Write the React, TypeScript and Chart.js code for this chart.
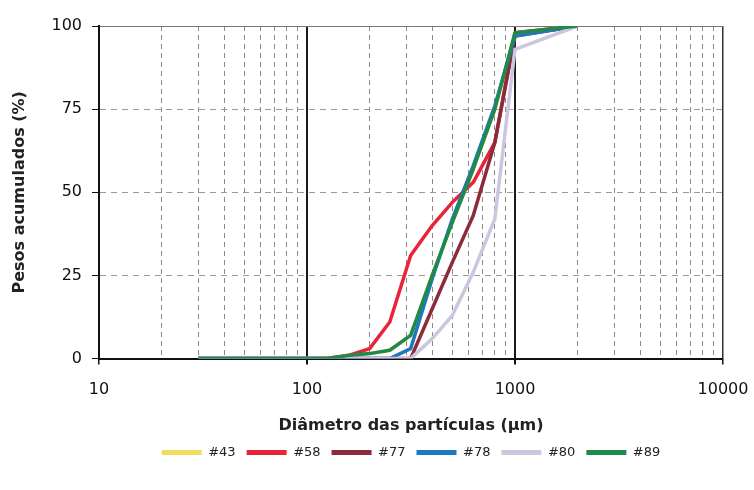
import React, { useEffect, useRef } from "react";
import { Chart, registerables } from "chart.js";

Chart.register(...registerables);

// Particle diameters (µm) of the sieve points
const diameters = [30, 63, 125, 160, 200, 250, 315, 400, 500, 630, 800, 1000, 2000];

// Cumulative weights (%) per sample
const s43 = [0, 0, 0, 1, 1.5, 2.5, 7, 25, 41, 57, 75, 98, 100];
const s58 = [0, 0, 0, 1, 3, 11, 31, 40, 47, 53, 65, 98, 100];
const s77 = [0, 0, 0, 0, 0, 0, 0, 15, 29, 43, 65, 97, 100];
const s78 = [0, 0, 0, 0, 0, 0, 3, 24, 42, 58, 76, 97, 100];
const s80 = [0, 0, 0, 0, 0, 0, 0, 6, 13, 26, 42, 93, 100];
const s89 = [0, 0, 0, 1, 1.5, 2.5, 7, 25, 41, 57, 75, 98, 100];

const seriesLabels = ["#43", "#58", "#77", "#78", "#80", "#89"];
const seriesValues = [s43, s58, s77, s78, s80, s89];
const seriesColors = ["#f2dc5d", "#e8233a", "#8c2b3a", "#1f78c1", "#cdc6e0", "#1f8a4c"];

const xMajorTicks = [10, 100, 1000, 10000];
const xMinorFactors = [1, 2, 3, 4, 5, 6, 7, 8, 9];
const yTickStep = 25;

const FONT = "'DejaVu Sans', 'Liberation Sans', Arial, sans-serif";

export default function App() {
  const canvasRef = useRef<HTMLCanvasElement | null>(null);

  useEffect(() => {
    if (!canvasRef.current) return;
    const xTickValues: number[] = [];
    for (let i = 0; i < xMajorTicks.length - 1; i++) {
      for (const f of xMinorFactors) xTickValues.push(xMajorTicks[i] * f);
    }
    xTickValues.push(xMajorTicks[xMajorTicks.length - 1]);

    const isInnerMajor = (v: number) => v === 100 || v === 1000;
    const isEdge = (v: number) => v === 10 || v === 10000;
    const n = seriesLabels.length;

    const chart = new Chart(canvasRef.current, {
      type: "line",
      data: {
        datasets: seriesLabels.map((label, si) => ({
          label,
          data: diameters.map((d, i) => ({ x: d, y: seriesValues[si][i] })),
          borderColor: seriesColors[si],
          backgroundColor: seriesColors[si],
          borderWidth: 3.5,
          pointRadius: 0,
          tension: 0,
          borderJoinStyle: "round" as const,
          fill: false,
          order: n - si,
        })),
      },
      options: {
        animation: false,
        responsive: true,
        maintainAspectRatio: false,
        layout: { padding: { top: 26, right: 31, left: 0, bottom: 21 } },
        plugins: {
          tooltip: { enabled: false },
          legend: {
            position: "bottom",
            fullSize: false,
            labels: {
              boxWidth: 40,
              boxHeight: 5,
              padding: 11,
              color: "#222",
              font: { family: FONT, size: 13 },
              sort: (a: any, b: any) => a.datasetIndex - b.datasetIndex,
              generateLabels: (c: any) =>
                Chart.defaults.plugins.legend.labels
                  .generateLabels(c)
                  .map((l: any) => ({ ...l, lineWidth: 0 })),
            },
          },
        },
        scales: {
          x: {
            type: "logarithmic",
            min: 10,
            max: 10000,
            afterBuildTicks: (scale: any) => {
              scale.ticks = xTickValues.map((v) => ({ value: v, major: xMajorTicks.includes(v) }));
            },
            afterFit: (scale: any) => {
              scale.paddingLeft = 0;
              scale.paddingRight = 0;
            },
            ticks: {
              autoSkip: false,
              maxRotation: 0,
              padding: 16,
              color: "#111",
              font: { family: FONT, size: 16 },
              callback: (v: any) => (xMajorTicks.includes(Number(v)) ? String(v) : ""),
            },
            grid: {
              tickLength: 6,
              color: (ctx: any) => {
                const v = ctx.tick ? ctx.tick.value : 0;
                if (isInnerMajor(v)) return "#1a1a1a";
                if (isEdge(v)) return "#333";
                return "#8a8a8a";
              },
              lineWidth: (ctx: any) => {
                const v = ctx.tick ? ctx.tick.value : 0;
                if (isInnerMajor(v)) return 2;
                if (isEdge(v)) return 1.5;
                return 1;
              },
              tickColor: (ctx: any) => {
                const v = ctx.tick ? ctx.tick.value : 0;
                return xMajorTicks.includes(v) ? "#111" : "rgba(0,0,0,0)";
              },
            },
            border: {
              display: true,
              color: "#111",
              width: 2,
              dash: (ctx: any) => {
                const v = ctx.tick ? ctx.tick.value : 10;
                return isInnerMajor(v) || isEdge(v) ? [] : [5, 4];
              },
            },
            title: {
              display: true,
              text: "Diâmetro das partículas (µm)",
              color: "#222",
              font: { family: FONT, size: 16, weight: "bold" },
              padding: { top: 0, bottom: 0 },
            },
          },
          y: {
            type: "linear",
            min: 0,
            max: 100,
            afterFit: (scale: any) => {
              scale.width = 99;
              scale.paddingTop = 0;
              scale.paddingBottom = 0;
            },
            ticks: {
              stepSize: yTickStep,
              padding: 10,
              color: "#111",
              font: { family: FONT, size: 16 },
            },
            grid: {
              tickLength: 7,
              color: (ctx: any) => {
                const v = ctx.tick ? ctx.tick.value : 0;
                if (v === 100) return "#777";
                return "#9a9a9a";
              },
              lineWidth: 1,
              tickColor: "#111",
            },
            border: {
              display: true,
              color: "#111",
              width: 2,
              dash: (ctx: any) => {
                const v = ctx.tick ? ctx.tick.value : 0;
                return v === 100 || v === 0 ? [] : [6, 5];
              },
            },
            title: {
              display: true,
              text: "Pesos acumulados (%)",
              color: "#222",
              font: { family: FONT, size: 16, weight: "bold" },
              padding: { top: 10, bottom: 0 },
            },
          },
        },
      },
    } as any);
    return () => chart.destroy();
  }, []);

  return (
    <div style={{ position: "fixed", left: 0, top: 0, width: 754, height: 490, background: "#fff" }}>
      <canvas ref={canvasRef} />
    </div>
  );
}
